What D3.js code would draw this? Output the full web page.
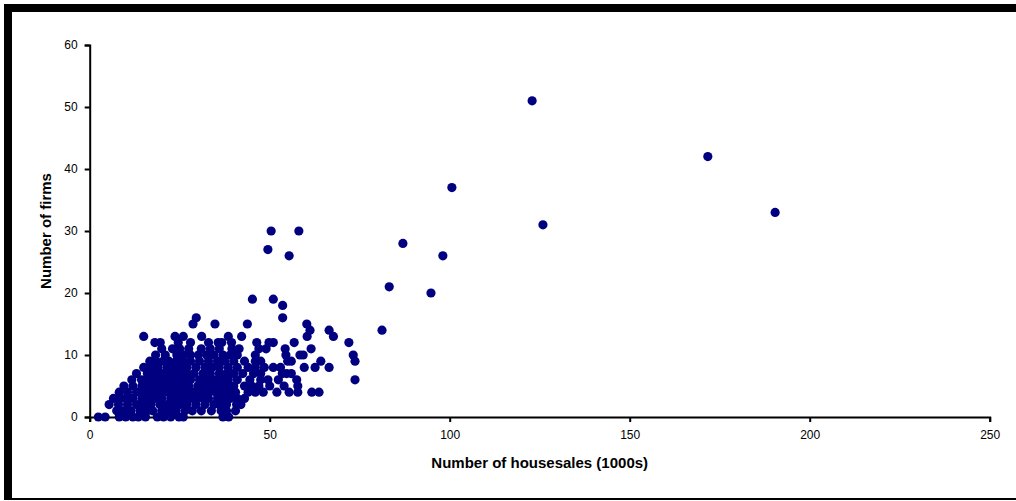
<!DOCTYPE html>
<html>
<head>
<meta charset="utf-8">
<script src="https://cdn.jsdelivr.net/npm/d3@7/dist/d3.min.js"></script>
<style>
  html, body { margin: 0; padding: 0; background: #fff; }
  svg { display: block; }
  .tick text { font-family: "Liberation Sans", Arial, sans-serif; font-size: 12px; fill: #000; }
  .axis-title { font-family: "Liberation Sans", Arial, sans-serif; font-size: 15px; font-weight: bold; fill: #000; }
</style>
</head>
<body>
<svg id="chart" width="1016" height="501"></svg>
<script>
// Number of firms (integer) grouped by count, with house sales (1000s) for each area
const firmCounts = [0,1,2,3,4,5,6,7,8,9,10,11,12,13,14,15,16,18,19,20,21,26,27,28,30,31,33,37,42,51];
const housesalesByCount = [
  [2.4, 4.3, 8.2, 10, 12, 13.5, 15.5, 18.8, 20.5, 22.5, 24.8, 26, 37, 38.6],
  [7.5, 9.5, 11.5, 14, 16, 17.5, 20, 22, 24, 26.5, 28.5, 31, 33.8, 36.5, 38, 40.5],
  [5.4, 8, 10.5, 13, 15, 17, 19.5, 21.5, 23, 25, 27, 29.5, 32, 34.5, 36, 38, 40.8, 42],
  [6.6, 8.5, 10, 12, 14.5, 16.5, 18, 20, 22.5, 24.5, 26.5, 28, 30, 31.5, 33, 35.5, 37.5, 39, 41, 43],
  [8.2, 10.5, 13, 15, 17, 19, 21, 23, 25, 27, 29, 31, 33, 35, 37, 39, 40.5, 44, 46, 48.2, 52, 55.4, 57.8, 61.7, 63.7],
  [9.5, 12, 14.5, 16, 18, 20, 22, 24, 25.5, 27.5, 30, 32, 34, 36, 38, 40, 43, 45, 47, 50, 54, 57.8],
  [11.7, 14.4, 16.5, 18.5, 20.5, 22.5, 24, 26, 28, 30.5, 32.5, 34.5, 36.5, 38.5, 41, 44.5, 47.5, 49.5, 52.4, 57.5, 73.7],
  [13, 16, 18, 20, 22, 24, 25.5, 27, 29, 31.5, 33.5, 36, 38, 40, 42.5, 45.5, 47.5, 53.5, 54.7, 56],
  [15, 17, 19, 21.5, 23.5, 25, 27, 29.5, 32, 34, 36, 38.5, 41, 44, 46, 48.5, 51, 53, 59.6, 62.6, 66.5],
  [16.7, 18.5, 20.4, 22, 24, 26, 28, 30.5, 33, 35.5, 37.5, 40, 43, 46, 47.5, 55, 56, 64.2, 73.7],
  [18.3, 21, 24.2, 26, 28, 30.2, 32.5, 34.5, 37, 39, 41, 46, 54.5, 58.4, 59.3, 73.2],
  [20, 23, 25, 27.5, 31, 33.5, 36, 39.5, 41.5, 47, 49, 54.3, 61.5],
  [18.1, 19.6, 24.6, 28, 33, 35.7, 36.7, 39.4, 46.4, 49.8, 51, 56.8, 72],
  [15, 23.7, 26, 31.1, 38.5, 42.2, 60.4, 67.7],
  [61.2, 66.5, 81.2],
  [28.7, 34.8, 43.8, 60.3],
  [29.6, 53.6],
  [53.6],
  [45.2, 51],
  [94.8],
  [83.2],
  [55.4, 98.1],
  [49.5],
  [87],
  [50.4, 58.1],
  [125.9],
  [190.4],
  [100.6],
  [171.7],
  [122.9]
];
const xTicks = [0, 50, 100, 150, 200, 250];
const yTicks = [0, 10, 20, 30, 40, 50, 60];
const xTitle = "Number of housesales (1000s)";
const yTitle = "Number of firms";

const points = [];
firmCounts.forEach((firms, i) => {
  housesalesByCount[i].forEach(sales => points.push({ sales, firms }));
});

const svg = d3.select("#chart");

// Outer frame: heavy top and left edges, thin bottom edge
svg.append("rect").attr("x", 4).attr("y", 4).attr("width", 1012).attr("height", 8).attr("fill", "#000");
svg.append("rect").attr("x", 4).attr("y", 4).attr("width", 8).attr("height", 496).attr("fill", "#000");
svg.append("rect").attr("x", 4).attr("y", 498).attr("width", 1012).attr("height", 2).attr("fill", "#000");

const x = d3.scaleLinear().domain([0, 250]).range([89.7, 989.7]);
const y = d3.scaleLinear().domain([0, 60]).range([417, 45]);

const xAxis = svg.append("g")
  .attr("transform", `translate(0,${y(0)})`)
  .call(d3.axisBottom(x).tickValues(xTicks).tickSize(5).tickPadding(8).tickFormat(d3.format("d")));
const yAxis = svg.append("g")
  .attr("transform", `translate(${x(0)},0)`)
  .call(d3.axisLeft(y).tickValues(yTicks).tickSize(5).tickPadding(7).tickFormat(d3.format("d")));

[xAxis, yAxis].forEach(g => {
  g.select(".domain").attr("stroke", "#000").attr("stroke-width", 2);
  g.selectAll(".tick line").attr("stroke", "#000").attr("stroke-width", 2);
});

svg.append("g")
  .selectAll("circle")
  .data(points)
  .join("circle")
  .attr("cx", d => x(d.sales))
  .attr("cy", d => y(d.firms))
  .attr("r", 4.6)
  .attr("fill", "#000080");

svg.append("text")
  .attr("class", "axis-title")
  .attr("x", (x(0) + x(250)) / 2)
  .attr("y", 468)
  .attr("text-anchor", "middle")
  .text(xTitle);

svg.append("text")
  .attr("class", "axis-title")
  .attr("transform", `translate(51,${(y(0) + y(60)) / 2}) rotate(-90)`)
  .attr("text-anchor", "middle")
  .text(yTitle);
</script>
</body>
</html>
